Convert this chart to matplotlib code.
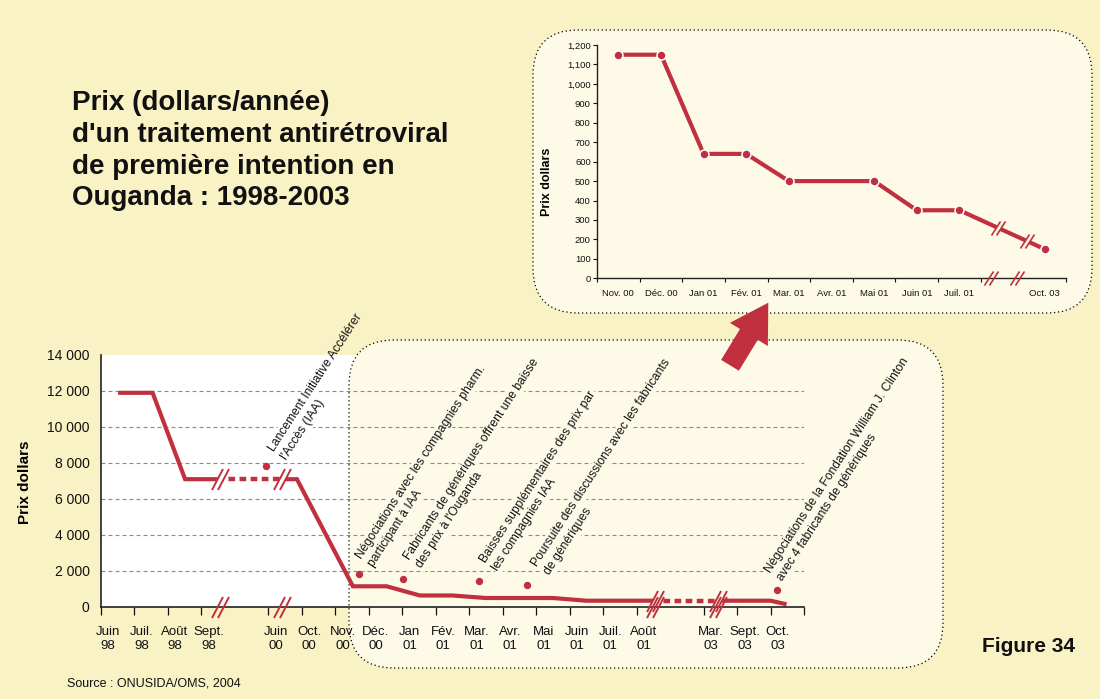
import numpy as np
import matplotlib
matplotlib.use("Agg")
import matplotlib.pyplot as plt
from matplotlib.patches import FancyBboxPatch, Rectangle, FancyArrow
from matplotlib.path import Path
from matplotlib.transforms import IdentityTransform
from matplotlib.ticker import FuncFormatter

plt.rcParams["font.family"] = ["Liberation Sans", "DejaVu Sans"]

# ---------------- data ----------------
# main chart: month slots on a broken time axis
main_month_labels = ["Juin\n98", "Juil.\n98", "Août\n98", "Sept.\n98",
                     "Juin\n00", "Oct.\n00", "Nov.\n00", "Déc.\n00",
                     "Jan\n01", "Fév.\n01", "Mar.\n01", "Avr.\n01",
                     "Mai\n01", "Juin\n01", "Juil.\n01", "Août\n01",
                     "Mar.\n03", "Sept.\n03", "Oct.\n03"]
main_month_slots = [0, 1, 2, 3, 5, 6, 7, 8, 9, 10, 11, 12, 13, 14, 15, 16, 18, 19, 20]
main_tick_slots = [0, 1, 2, 3, 5, 6, 7, 8, 9, 10, 11, 12, 13, 14, 15, 16, 18, 19, 20, 21]

price_pos = [0.52, 1.55, 2.52, 3.50, 5.86, 7.53, 8.54, 9.53, 10.50,
             11.50, 13.50, 14.50, 15.50, 16.50, 20.00, 20.48]
price_usd = [11900, 11900, 7100, 7100, 7100, 1150, 1150, 640, 640,
             500, 500, 350, 350, 350, 350, 150]
time_gaps = [(3.56, 5.40), (16.55, 18.43)]

event_pos = [4.94, 7.72, 9.03, 11.30, 12.73, 20.20]
event_level = [7840, 1860, 1580, 1430, 1200, 970]
event_text = [
    ("Lancement Initiative Accélérer", "l'Accès (IAA)"),
    ("Négociations avec les compagnies pharm.", "participant à IAA"),
    ("Fabricants de génériques offrent une baisse", "des prix à l'Ouganda"),
    ("Baisses supplémentaires des prix par", "les compagnies IAA"),
    ("Poursuite des discussions avec les fabricants", "de génériques"),
    ("Négociations de la Fondation William J. Clinton", "avec 4 fabricants de génériques"),
]

# zoomed chart: Nov. 2000 - Oct. 2003
inset_labels = ["Nov. 00", "Déc. 00", "Jan 01", "Fév. 01", "Mar. 01", "Avr. 01",
                "Mai 01", "Juin 01", "Juil. 01", "Oct. 03"]
inset_pos = [0.5, 1.5, 2.5, 3.5, 4.5, 5.5, 6.5, 7.5, 8.5, 10.5]
inset_usd = [1150, 1150, 640, 640, 500, 500, 500, 350, 350, 150]
inset_marked = [True, True, True, True, True, False, True, True, True, True]
inset_tick_slots = [0, 1, 2, 3, 4, 5, 6, 7, 8, 9, 11]
inset_line_gaps = [9.41, 10.09]
inset_axis_gaps = [9.24, 9.86]

# ---------------- style ----------------
W, H = 1100, 699
PAGE = "#F8F2C4"
CREAM = "#FDFAE8"
RED = "#C0303E"
INK = "#111111"

fig = plt.figure(figsize=(W / 100, H / 100), dpi=100)
fig.patch.set_facecolor(PAGE)
PIX = IdentityTransform()


def frac_rect(x0, y0, x1, y1):
    return [x0 / W, 1 - y1 / H, (x1 - x0) / W, (y1 - y0) / H]


def rounded_panel(x0, y0, x1, y1, r):
    p = FancyBboxPatch((x0, H - y1), x1 - x0, y1 - y0,
                       boxstyle=f"round,pad=0,rounding_size={r}",
                       fc=CREAM, ec="black", lw=0.9, ls=(0, (1, 2.2)),
                       transform=PIX, zorder=-2)
    fig.add_artist(p)


def break_mark(ax, x, y, h, w, sep, lw, fill=None, half=4.0, z=6):
    """Double slash drawn in pixel units centred on (x, y)."""
    k = w / h
    verts = np.array([[-sep / 2 - k * h / 2, -h / 2], [-sep / 2 + k * h / 2, h / 2],
                      [sep / 2 - k * h / 2, -h / 2], [sep / 2 + k * h / 2, h / 2]])
    codes = [Path.MOVETO, Path.LINETO, Path.MOVETO, Path.LINETO]
    if fill is not None:
        fv = np.array([[-sep / 2 - k * half, -half], [sep / 2 - k * half, -half],
                       [sep / 2 + k * half, half], [-sep / 2 + k * half, half],
                       [-sep / 2 - k * half, -half]])
        fpath = Path(fv, [Path.MOVETO, Path.LINETO, Path.LINETO, Path.LINETO, Path.CLOSEPOLY])
        ax.plot([x], [y], marker=fpath, ms=2 * np.abs(fv).max() * 0.72,
                mfc=fill, mec="none", ls="none", zorder=z - 0.5, clip_on=False)
    ax.plot([x], [y], marker=Path(verts, codes), ms=2 * np.abs(verts).max() * 0.72,
            mfc="none", mec=RED, mew=lw, ls="none", zorder=z, clip_on=False)


# white plotting area and the two dotted panels
fig.add_artist(Rectangle((100.7, H - 607), 804 - 100.7, 607 - 355,
                         fc="white", ec="none", transform=PIX, zorder=-3))
rounded_panel(349, 340, 943, 668, 45)
rounded_panel(533, 30, 1092, 313, 45)

# ---------------- main chart ----------------
ax = fig.add_axes(frac_rect(100.7, 355, 804, 607))
ax.set_facecolor("none")
ax.set_xlim(0, 21)
ax.set_ylim(0, 14000)

for lev in range(2000, 12001, 2000):
    ax.axhline(lev, color="#8C8C8C", lw=0.8, ls=(0, (3.6, 2.7)), zorder=1)

# line split into solid pieces and dotted gap pieces
bounds = [price_pos[0]] + [v for g in time_gaps for v in g] + [price_pos[-1]]
for i in range(len(bounds) - 1):
    a, b = bounds[i], bounds[i + 1]
    xs = [a] + [p for p in price_pos if a < p < b] + [b]
    ys = np.interp(xs, price_pos, price_usd)
    if i % 2 == 0:
        ax.plot(xs, ys, color=RED, lw=3, solid_capstyle="butt",
                solid_joinstyle="miter", zorder=3)
    else:
        ax.plot(xs, ys, color=RED, lw=3.2, ls=(0.6, (1.5, 1.0)),
                dash_capstyle="butt", zorder=3)

for j, g in enumerate(time_gaps):
    for gx in g:
        gy = np.interp(gx, price_pos, price_usd)
        bg = "white" if j == 0 else CREAM
        break_mark(ax, gx, gy, 21, 11, 6, 1.4, fill=bg, half=4)
        break_mark(ax, gx, 0, 21, 11, 6, 1.4)

ax.plot(event_pos, event_level, "o", ms=5.3, color=RED, mec="none", zorder=5)

# event captions: two rotated lines each, first line starting just above its dot
ANGLE = 57
first_line_shift = [(8, -14), (2, -14), (6, -18), (6, -18), (10, -18), (-7, -16)]  # px, y down
LINE_GAP = 15.0  # px between the two caption lines
perp = (np.sin(np.radians(ANGLE)) * LINE_GAP, np.cos(np.radians(ANGLE)) * LINE_GAP)
for j, (ex, ey, lines, sh) in enumerate(zip(event_pos, event_level, event_text, first_line_shift)):
    bg = "white" if j == 0 else CREAM
    starts = [sh, (sh[0] + perp[0], sh[1] + perp[1])]
    for line, (dx, dy) in zip(lines, starts):
        common = dict(xy=(ex, ey), xytext=(dx * 0.72, -dy * 0.72), textcoords="offset points",
                      rotation=ANGLE, rotation_mode="anchor", ha="left", va="baseline",
                      fontsize=8.7, annotation_clip=False)
        ax.annotate(line, color="none", clip_on=True, zorder=2,
                    bbox=dict(boxstyle="square,pad=0.12", fc=bg, ec="none"), **common)
        ax.annotate(line, color=INK, clip_on=False, zorder=6, **common)

ax.set_yticks(range(0, 14001, 2000))
ax.yaxis.set_major_formatter(FuncFormatter(lambda v, _: f"{int(v):,}".replace(",", " ")))
ax.tick_params(axis="y", length=0, pad=8, labelsize=10, colors=INK)
ax.set_xticks(main_tick_slots)
ax.set_xticklabels([])
ax.set_xticks([s + 0.22 for s in main_month_slots], minor=True)
ax.set_xticklabels(main_month_labels, minor=True)
ax.tick_params(axis="x", which="major", length=5.5, width=0.9, direction="out", color=INK)
ax.tick_params(axis="x", which="minor", length=0, pad=13.5, labelsize=9.5, colors=INK)
for t in ax.get_xticklabels(minor=True):
    t.set_linespacing(1.3)
for s in ["top", "right"]:
    ax.spines[s].set_visible(False)
for s in ["left", "bottom"]:
    ax.spines[s].set_linewidth(1.2)
    ax.spines[s].set_color("#222222")
    ax.spines[s].set_zorder(4)
ax.set_ylabel("Prix dollars", fontsize=11, fontweight="bold")
ax.yaxis.set_label_coords(-0.098, 0.494)

# ---------------- zoomed chart ----------------
ax2 = fig.add_axes(frac_rect(597, 45, 1066, 278.3))
ax2.set_facecolor("none")
ax2.set_xlim(0, 11)
ax2.set_ylim(0, 1200)
ax2.plot(inset_pos, inset_usd, color=RED, lw=3, solid_joinstyle="miter", zorder=3)
mx = [p for p, m in zip(inset_pos, inset_marked) if m]
my = [v for v, m in zip(inset_usd, inset_marked) if m]
ax2.plot(mx, my, "o", ms=6.5, mfc=RED, mec="white", mew=1.1, zorder=4)
for gx in inset_line_gaps:
    break_mark(ax2, gx, np.interp(gx, inset_pos, inset_usd), 14, 9, 5, 1.2, fill=CREAM, half=3.5)
for gx in inset_axis_gaps:
    break_mark(ax2, gx, 0, 14, 9, 5, 1.2)

ax2.set_yticks(range(0, 1201, 100))
ax2.yaxis.set_major_formatter(FuncFormatter(lambda v, _: f"{int(v):,}"))
ax2.tick_params(axis="y", length=3, width=0.8, pad=1.5, labelsize=6.8, colors=INK)
ax2.set_xticks(inset_tick_slots)
ax2.set_xticklabels([])
ax2.set_xticks(inset_pos, minor=True)
ax2.set_xticklabels(inset_labels, minor=True)
ax2.tick_params(axis="x", which="major", length=3.2, width=0.8, color=INK)
ax2.tick_params(axis="x", which="minor", length=0, pad=8, labelsize=6.8, colors=INK)
for s in ["top", "right"]:
    ax2.spines[s].set_visible(False)
for s in ["left", "bottom"]:
    ax2.spines[s].set_linewidth(1.0)
    ax2.spines[s].set_color("#222222")
ax2.set_ylabel("Prix dollars", fontsize=9, fontweight="bold")
ax2.yaxis.set_label_coords(-0.093, 0.414)

# arrow linking the two charts
fig.add_artist(FancyArrow(730, H - 365.3, 38.3, 62.6, width=20.8, head_width=44.4,
                          head_length=37.2, length_includes_head=True,
                          fc=RED, ec="none", transform=PIX, zorder=5))

# ---------------- texts ----------------
fig.text(71.7 / W, 1 - 90 / H,
         "Prix (dollars/année)\nd'un traitement antirétroviral\nde première intention en\nOuganda : 1998-2003",
         fontsize=20, fontweight="bold", ha="left", va="top", linespacing=1.29, color=INK)
fig.text(982 / W, 1 - 647 / H, "Figure 34", fontsize=15, fontweight="bold",
         ha="left", va="center", color=INK)
fig.text(67 / W, 1 - 684 / H, "Source : ONUSIDA/OMS, 2004", fontsize=9,
         ha="left", va="center", color=INK)

fig.savefig("out.png", dpi=100, facecolor=PAGE)
